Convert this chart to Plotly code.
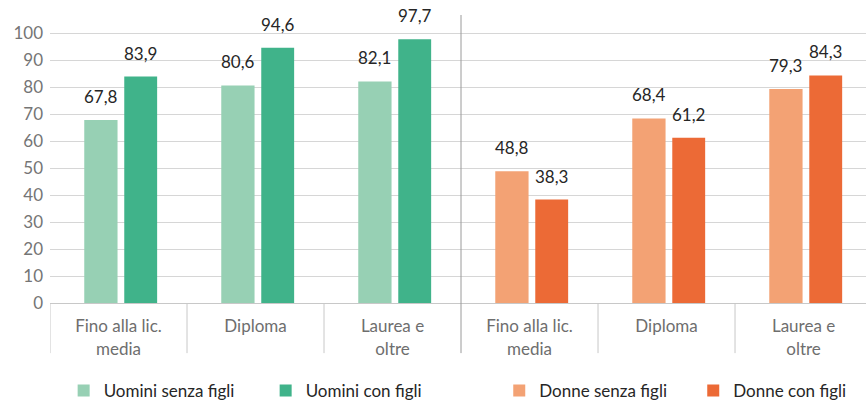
import plotly.graph_objects as go

categories = ["Fino alla lic.<br>media", "Diploma", "Laurea e<br>oltre",
              "Fino alla lic.<br>media", "Diploma", "Laurea e<br>oltre"]
uomini_senza_figli = [67.8, 80.6, 82.1]
uomini_con_figli = [83.9, 94.6, 97.7]
donne_senza_figli = [48.8, 68.4, 79.3]
donne_con_figli = [38.3, 61.2, 84.3]
y_ticks = [0, 10, 20, 30, 40, 50, 60, 70, 80, 90, 100]

men_x = [0, 1, 2]
women_x = [3, 4, 5]

FONT = "Lato"
LIGHT_OFF, LIGHT_W = -0.25, 0.243
DARK_OFF, DARK_W = 0.042, 0.24

series = [
    ("Uomini senza figli", men_x, uomini_senza_figli, "#97D0B4", LIGHT_OFF, LIGHT_W, "legend"),
    ("Uomini con figli", men_x, uomini_con_figli, "#40B38A", DARK_OFF, DARK_W, "legend"),
    ("Donne senza figli", women_x, donne_senza_figli, "#F3A274", LIGHT_OFF, LIGHT_W, "legend2"),
    ("Donne con figli", women_x, donne_con_figli, "#EC6A36", DARK_OFF, DARK_W, "legend2"),
]

fig = go.Figure()
annotations = []
for name, xs, ys, color, off, w, leg in series:
    fig.add_trace(go.Bar(
        name=name, x=xs, y=ys, offset=off, width=w,
        marker=dict(color=color, line=dict(width=0)),
        legend=leg, hoverinfo="skip",
    ))
    for xv, yv in zip(xs, ys):
        annotations.append(dict(
            x=xv + off + w / 2, y=yv, xref="x", yref="y",
            text=f"{yv:.1f}".replace(".", ","), showarrow=False,
            yanchor="bottom", yshift=11,
            font=dict(family=FONT, size=17, color="#262626"),
        ))

shapes = []
for i in range(6):
    sx = i - 0.5
    shapes.append(dict(
        type="line", xref="x", yref="paper", x0=sx, x1=sx,
        y0=-0.174, y1=(1.0 if i == 3 else 0),
        line=dict(color="#9a9a9a" if i == 3 else "#c8c8c8", width=1),
        layer="above",
    ))

fig.update_layout(
    width=866, height=401,
    margin=dict(l=50, r=0, t=15, b=98),
    paper_bgcolor="white", plot_bgcolor="white",
    barmode="overlay",
    font=dict(family=FONT, size=17, color="#262626"),
    xaxis=dict(
        range=[-0.5, 5.456], tickvals=list(range(6)), ticktext=categories,
        showgrid=False, zeroline=False, showline=True, linecolor="#c8c8c8",
        ticks="", ticklabelstandoff=8,
        tickfont=dict(family=FONT, size=17, color="#6e6e6e"),
        fixedrange=True,
    ),
    yaxis=dict(
        range=[0, 106.7], tickvals=y_ticks, showgrid=True, gridcolor="#d6d6d6",
        zeroline=False, ticks="", ticklabelstandoff=6,
        tickfont=dict(family=FONT, size=17, color="#757575"),
        fixedrange=True,
    ),
    legend=dict(
        orientation="h", xref="container", yref="container",
        x=0.0735, y=0.025, xanchor="left", yanchor="middle",
        entrywidth=157, font=dict(family=FONT, size=17, color="#262626"),
        bgcolor="rgba(0,0,0,0)", tracegroupgap=0,
    ),
    legend2=dict(
        orientation="h", xref="container", yref="container",
        x=0.5765, y=0.025, xanchor="left", yanchor="middle",
        entrywidth=149, font=dict(family=FONT, size=17, color="#262626"),
        bgcolor="rgba(0,0,0,0)", tracegroupgap=0,
    ),
    annotations=annotations,
    shapes=shapes,
    showlegend=True,
)

fig.write_html("out.html", config={"displayModeBar": False},
               post_script="document.body.style.margin='0';document.body.style.padding='0';")
